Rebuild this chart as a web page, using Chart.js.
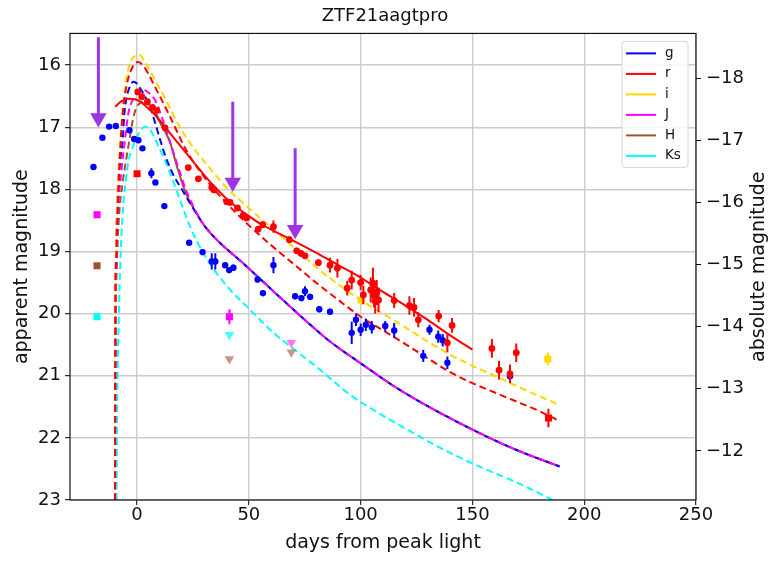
<!DOCTYPE html>
<html>
<head>
<meta charset="utf-8">
<title>ZTF21aagtpro</title>
<script src="https://cdn.jsdelivr.net/npm/chart.js@4.4.1/dist/chart.umd.min.js"></script>
<style>
  html, body { margin: 0; padding: 0; background: #fff; }
  #wrap { width: 770px; height: 563px; position: relative; }
</style>
</head>
<body>
<div id="wrap"><canvas id="lc"></canvas></div>
<script>
// --- axes ---
const xTicks = [0, 50, 100, 150, 200, 250];
const yTicks = [16, 17, 18, 19, 20, 21, 22, 23];
const absTicks = [-18, -17, -16, -15, -14, -13, -12];
const distMod = 34.21;
const bandLabels = ["g", "r", "i", "J", "H", "Ks"];
const bandColors = ["#0000ff", "#ff0000", "#ffd700", "#ff00ff", "#a0522d", "#00ffff"];

// --- observed photometry ---
const gDays = [-19.5, -15.5, -12.5, -9.5, -3.4, -1.3, 0.6, 2.4, 6.4, 8.2, 12.2, 23.3, 29.3, 33.4, 35.0, 39.4, 41.2, 43.1, 53.9, 56.3, 61.0, 70.7, 73.5, 75.1, 77.4, 81.5, 86.3, 96.0, 97.9, 100.0, 102.3, 105.0, 111.0, 115.0, 128.0, 130.8, 134.7, 136.7, 138.8, 166.8];
const gMags = [17.64, 17.17, 16.99, 16.98, 17.05, 17.19, 17.21, 17.34, 17.74, 17.89, 18.27, 18.86, 19.01, 19.16, 19.16, 19.22, 19.30, 19.26, 19.45, 19.67, 19.22, 19.72, 19.75, 19.64, 19.73, 19.93, 19.97, 20.31, 20.10, 20.26, 20.18, 20.22, 20.20, 20.27, 20.68, 20.26, 20.37, 20.43, 20.79, 21.01];
const gErrs = [0, 0, 0, 0, 0, 0, 0, 0, 0.08, 0.03, 0.03, 0.03, 0.05, 0.13, 0.13, 0.05, 0.05, 0.05, 0.05, 0.05, 0.13, 0.05, 0.05, 0.08, 0.05, 0.05, 0.05, 0.18, 0.1, 0.1, 0.1, 0.1, 0.08, 0.12, 0.1, 0.08, 0.1, 0.1, 0.1, 0.1];

const rDays = [0.3, 2.1, 4.6, 6.9, 8.8, 12.5, 22.9, 27.4, 33.4, 34.4, 40.1, 41.6, 44.9, 47.5, 49.0, 54.2, 56.2, 61.0, 68.1, 71.4, 73.3, 75.1, 81.1, 86.3, 89.6, 94.0, 96.0, 100.0, 101.2, 104.5, 105.5, 106.0, 106.5, 107.2, 108.0, 115.0, 121.8, 123.9, 125.8, 134.9, 138.8, 140.9, 158.7, 161.9, 166.8, 169.6];
const rMags = [16.43, 16.51, 16.59, 16.68, 16.73, 17.01, 17.65, 17.83, 17.97, 18.01, 18.20, 18.21, 18.30, 18.42, 18.46, 18.64, 18.57, 18.60, 18.81, 18.99, 19.03, 19.07, 19.18, 19.22, 19.27, 19.59, 19.46, 19.50, 19.70, 19.62, 19.51, 19.70, 19.80, 19.66, 19.78, 19.79, 19.87, 19.90, 20.10, 20.04, 20.47, 20.19, 20.56, 20.91, 20.97, 20.63];
const rErrs = [0, 0, 0, 0, 0, 0.03, 0.03, 0.04, 0.05, 0.05, 0.04, 0.04, 0.04, 0.05, 0.05, 0.05, 0.05, 0.1, 0.05, 0.05, 0.05, 0.05, 0.05, 0.12, 0.15, 0.12, 0.15, 0.12, 0.15, 0.2, 0.25, 0.2, 0.2, 0.2, 0.2, 0.12, 0.15, 0.15, 0.12, 0.1, 0.15, 0.12, 0.15, 0.15, 0.15, 0.15];

// other instruments (squares)
const rSqDays = [0, 184];
const rSqMags = [17.75, 21.68];
const rSqErrs = [0, 0.15];
const iSqDays = [100.2, 183.7];
const iSqMags = [19.78, 20.73];
const iSqErrs = [0.08, 0.1];
const jSqDays = [-17.9, 41.3];
const jSqMags = [18.41, 20.05];
const jSqErrs = [0, 0.12];
const hSqDays = [-17.9];
const hSqMags = [19.23];
const ksSqDays = [-17.9];
const ksSqMags = [20.05];

// upper limits
const jLimDays = [69];
const jLimMags = [20.47];
const hLimDays = [41.3, 69];
const hLimMags = [20.73, 20.62];
const ksLimDays = [41.3];
const ksLimMags = [20.34];

// spectrum epochs (arrows)
const specDays = [-17.3, 42.8, 70.7];
const specTop = [15.55, 16.59, 17.34];
const specEnd = [16.85, 17.89, 18.65];

// --- model curves ---
const tailDays = [30, 37, 42, 49, 55, 64, 75, 86, 100, 115, 131, 153, 170, 189];
const tailMags = [18.58, 18.86, 19.02, 19.24, 19.44, 19.74, 20.1, 20.44, 20.8, 21.17, 21.51, 21.92, 22.2, 22.46];

const gModDays = [-9.9, -9.8, -9.4, -8.5, -7.4, -6.4, -5.8, -4.6, -3, -1.65, 0, 1.3, 3.5, 5.8, 8, 10.3, 12.5, 16, 20, 25];
const gModMags = [23, 20.6, 19.0, 18.0, 17.5, 17.2, 16.83, 16.51, 16.33, 16.27, 16.3, 16.37, 16.5, 16.67, 16.92, 17.2, 17.45, 17.75, 18.0, 18.3];

const jModDays = [-9.8, -9.7, -9.3, -8.4, -7, -5.4, -3.9, -1.6, 0.5, 2.8, 5, 8, 11, 14, 18, 22, 26];
const jModMags = [23, 20.6, 19.2, 18.3, 17.7, 17.2, 16.78, 16.54, 16.43, 16.40, 16.44, 16.56, 16.83, 17.15, 17.6, 18.02, 18.33];

const hDashDays = [-9.6, -9.5, -9.1, -8.2, -6.5, -5, -3.4, -2, -0.5, 1, 3, 5, 7.3, 9.5, 12];
const hDashMags = [23, 20.6, 19.3, 18.5, 17.9, 17.55, 17.2, 16.9, 16.7, 16.62, 16.6, 16.63, 16.72, 16.85, 17.05];
const hSolidDays = [8, 11.8, 14.8, 18, 22, 26];
const hSolidMags = [16.78, 17.02, 17.25, 17.65, 18.08, 18.35];

const rSolidDays = [-9.8, -7, -4, -1, 2, 5, 8, 12, 16, 20, 25, 30, 35, 40, 45, 50, 55, 60, 70, 80, 90, 100, 110, 120, 130, 140, 150];
const rSolidMags = [16.67, 16.58, 16.54, 16.55, 16.6, 16.7, 16.8, 16.97, 17.15, 17.33, 17.55, 17.77, 17.97, 18.15, 18.3, 18.43, 18.55, 18.65, 18.83, 19.02, 19.22, 19.42, 19.65, 19.87, 20.1, 20.35, 20.58];

const rDashDays = [-9.9, -9.8, -9.3, -8.6, -7.6, -6.5, -4.5, -2, 0.6, 3, 5.5, 8, 12, 15, 22, 30, 40, 50, 60, 70, 80, 90, 100, 110, 120, 130, 140, 150, 160, 170, 180, 189];
const rDashMags = [23, 20.6, 19.1, 18.2, 17.4, 16.8, 16.3, 16.03, 15.95, 16.02, 16.17, 16.35, 16.63, 16.85, 17.37, 17.8, 18.22, 18.58, 18.9, 19.2, 19.5, 19.78, 20.05, 20.27, 20.49, 20.72, 20.94, 21.12, 21.27, 21.42, 21.57, 21.73];

const iDashDays = [-9.9, -9.8, -9.4, -8.8, -7.8, -6.9, -5.4, -3.5, -1.5, 1.3, 3, 5.5, 8, 12, 15.5, 20, 25, 30, 40, 50, 60, 70, 80, 90, 100, 110, 120, 130, 140, 150, 160, 170, 180, 189];
const iDashMags = [23, 20.6, 19.0, 18.1, 17.4, 16.93, 16.35, 16.0, 15.87, 15.84, 15.92, 16.07, 16.24, 16.5, 16.75, 17.05, 17.32, 17.55, 17.97, 18.3, 18.62, 18.93, 19.25, 19.53, 19.78, 20.0, 20.22, 20.45, 20.66, 20.84, 21.0, 21.17, 21.33, 21.47];

const ksDashDays = [-9.2, -8.9, -8.4, -7.6, -6.3, -5, -3.9, -2.4, 0, 2, 3.6, 6, 9.5, 13, 17, 20, 23.7, 30, 40, 50, 59.5, 70, 80, 86.3, 95, 105.7, 120, 135, 153, 170, 186];
const ksDashMags = [23, 21.5, 20.4, 19.3, 18.3, 17.85, 17.55, 17.37, 17.15, 17.03, 16.99, 17.05, 17.3, 17.58, 17.95, 18.25, 18.6, 19.05, 19.55, 19.92, 20.26, 20.57, 20.85, 21.04, 21.3, 21.55, 21.85, 22.15, 22.46, 22.72, 23.0];

// --- helpers ---
const FONT = "DejaVu Sans";
Chart.defaults.font.family = FONT;

function pts(days, mags) {
  return days.map((d, i) => ({ x: d, y: mags[i] }));
}

function modelLine(days, mags, color, dashed, order) {
  return {
    data: pts(days, mags),
    showLine: true,
    borderColor: color,
    backgroundColor: color,
    borderWidth: 2,
    borderDash: dashed ? [7, 4] : [],
    pointRadius: 0,
    cubicInterpolationMode: "monotone",
    order: order,
  };
}

function obs(days, mags, errs, color, style, radius, order) {
  return {
    data: pts(days, mags),
    errors: errs,
    showLine: false,
    pointStyle: style,
    pointRadius: radius,
    pointRotation: style === "triangle" ? 180 : 0,
    pointBorderWidth: 0,
    backgroundColor: color,
    borderColor: color,
    pointBackgroundColor: color,
    order: order,
  };
}

const datasets = [];

// models
datasets.push(modelLine(rSolidDays, rSolidMags, bandColors[1], false, 13));
datasets.push(modelLine(rDashDays, rDashMags, bandColors[1], true, 14));
datasets.push(modelLine(iDashDays, iDashMags, bandColors[2], true, 15));
datasets.push(modelLine(jModDays.concat(tailDays), jModMags.concat(tailMags), bandColors[3], true, 16));
datasets.push(modelLine(gModDays.concat(tailDays), gModMags.concat(tailMags), bandColors[0], true, 17));
datasets.push(modelLine(ksDashDays, ksDashMags, bandColors[5], true, 18));
datasets.push(modelLine(hDashDays, hDashMags, bandColors[4], true, 19));
datasets.push(modelLine(hSolidDays.concat(tailDays), hSolidMags.concat(tailMags), bandColors[4], false, 20));

// observations
datasets.push(obs(gDays, gMags, gErrs, bandColors[0], "circle", 3.2, 3));
datasets.push(obs(rDays, rMags, rErrs, bandColors[1], "circle", 3.4, 2));
datasets.push(obs(rSqDays, rSqMags, rSqErrs, bandColors[1], "rect", 5, 2));
datasets.push(obs(iSqDays, iSqMags, iSqErrs, bandColors[2], "rect", 5, 2));
datasets.push(obs(jSqDays, jSqMags, jSqErrs, bandColors[3], "rect", 5, 2));
datasets.push(obs(hSqDays, hSqMags, [0], bandColors[4], "rect", 5, 2));
datasets.push(obs(ksSqDays, ksSqMags, [0], bandColors[5], "rect", 5, 2));
datasets.push(obs(jLimDays, jLimMags, [0], "rgba(255,0,255,0.55)", "triangle", 5.5, 2));
datasets.push(obs(hLimDays, hLimMags, [0, 0], "rgba(160,82,45,0.6)", "triangle", 5.5, 2));
datasets.push(obs(ksLimDays, ksLimMags, [0], "rgba(0,255,255,0.75)", "triangle", 5.5, 2));

// arrows
specDays.forEach((d, i) => {
  datasets.push({
    data: [{ x: d, y: specTop[i] }, { x: d, y: specEnd[i] }],
    showLine: true,
    borderColor: "#a035e6",
    backgroundColor: "#a035e6",
    borderWidth: 3,
    pointStyle: "triangle",
    pointRotation: 180,
    pointRadius: [0, 9.5],
    pointBorderWidth: 0,
    order: 0,
  });
});

// --- plugins ---
const errorBars = {
  id: "errorBars",
  beforeDatasetDraw(chart, args) {
    const ds = chart.data.datasets[args.index];
    if (!ds.errors) return;
    const { x, y } = chart.scales;
    const ctx = chart.ctx;
    const a = chart.chartArea;
    ctx.save();
    ctx.beginPath();
    ctx.rect(a.left, a.top, a.right - a.left, a.bottom - a.top);
    ctx.clip();
    ctx.strokeStyle = ds.borderColor;
    ctx.lineWidth = 2;
    ctx.beginPath();
    ds.data.forEach((p, i) => {
      const e = ds.errors[i];
      if (!e) return;
      const px = x.getPixelForValue(p.x);
      ctx.moveTo(px, y.getPixelForValue(p.y - e));
      ctx.lineTo(px, y.getPixelForValue(p.y + e));
    });
    ctx.stroke();
    ctx.restore();
  },
};

const frameAndLegend = {
  id: "frameAndLegend",
  afterDraw(chart) {
    const ctx = chart.ctx;
    const a = chart.chartArea;
    ctx.save();
    // frame
    ctx.strokeStyle = "#000";
    ctx.lineWidth = 1.1;
    ctx.strokeRect(a.left, a.top, a.right - a.left, a.bottom - a.top);

    // legend box
    const bw = 66, bh = 126;
    const bx = a.right - 8 - bw, by = a.top + 8;
    ctx.fillStyle = "rgba(255,255,255,0.85)";
    ctx.strokeStyle = "#d6d6d6";
    ctx.lineWidth = 1;
    ctx.beginPath();
    ctx.roundRect(bx, by, bw, bh, 3);
    ctx.fill();
    ctx.stroke();
    ctx.font = "13.5px " + FONT;
    ctx.textBaseline = "middle";
    ctx.textAlign = "left";
    bandLabels.forEach((lab, i) => {
      const ly = by + 12 + i * 20.5;
      ctx.strokeStyle = bandColors[i];
      ctx.lineWidth = 2;
      ctx.beginPath();
      ctx.moveTo(bx + 4, ly);
      ctx.lineTo(bx + 34, ly);
      ctx.stroke();
      ctx.fillStyle = "#111";
      ctx.fillText(lab, bx + 43, ly);
    });

    // right axis title (reads bottom to top)
    ctx.translate(759, (a.top + a.bottom) / 2);
    ctx.rotate(-Math.PI / 2);
    ctx.textAlign = "center";
    ctx.textBaseline = "middle";
    ctx.font = "19px " + FONT;
    ctx.fillStyle = "#111";
    ctx.fillText("absolute magnitude", 0, 0);
    ctx.restore();
  },
};

const tickFont = { family: FONT, size: 18 };
const labelFont = { family: FONT, size: 19 };

new Chart(document.getElementById("lc"), {
  type: "scatter",
  data: { datasets: datasets },
  plugins: [errorBars, frameAndLegend],
  options: {
    responsive: true,
    maintainAspectRatio: false,
    animation: false,
    layout: { padding: 0 },
    plugins: {
      legend: { display: false },
      tooltip: { enabled: false },
      title: {
        display: true,
        text: "ZTF21aagtpro",
        color: "#111",
        font: { family: FONT, size: 18, weight: "normal" },
        padding: { top: 6, bottom: 5.8 },
      },
    },
    scales: {
      x: {
        type: "linear",
        min: -30,
        max: 250,
        afterBuildTicks: (s) => { s.ticks = xTicks.map((v) => ({ value: v })); },
        afterFit: (s) => { s.height = 63; },
        ticks: { color: "#111", font: tickFont, padding: 0, maxRotation: 0 },
        grid: { color: "#cccccc", lineWidth: 1.4, tickLength: 5, tickColor: "#000", tickWidth: 1 },
        border: { display: false },
        title: {
          display: true,
          text: "days from peak light",
          color: "#111",
          font: labelFont,
          padding: { top: 0, bottom: 8.6 },
        },
      },
      y: {
        type: "linear",
        position: "left",
        reverse: true,
        min: 15.49,
        max: 23,
        afterBuildTicks: (s) => { s.ticks = yTicks.map((v) => ({ value: v })); },
        afterFit: (s) => { s.width = 70; },
        ticks: { color: "#111", font: tickFont, padding: 4 },
        grid: { color: "#cccccc", lineWidth: 1.4, tickLength: 5, tickColor: "#000", tickWidth: 1 },
        border: { display: false },
        title: {
          display: true,
          text: "apparent magnitude",
          color: "#111",
          font: labelFont,
          padding: { top: 10.6, bottom: 0 },
        },
      },
      y2: {
        type: "linear",
        position: "right",
        reverse: true,
        min: 15.49 - distMod,
        max: 23 - distMod,
        afterBuildTicks: (s) => { s.ticks = absTicks.map((v) => ({ value: v })); },
        afterFit: (s) => { s.width = 74; },
        ticks: {
          color: "#111",
          font: tickFont,
          padding: 5,
          callback: (v) => String(v).replace("-", "\u2212"),
        },
        grid: { drawOnChartArea: false, tickLength: 5, tickColor: "#000", tickWidth: 1 },
        border: { display: false },
      },
    },
  },
});
</script>
</body>
</html>
